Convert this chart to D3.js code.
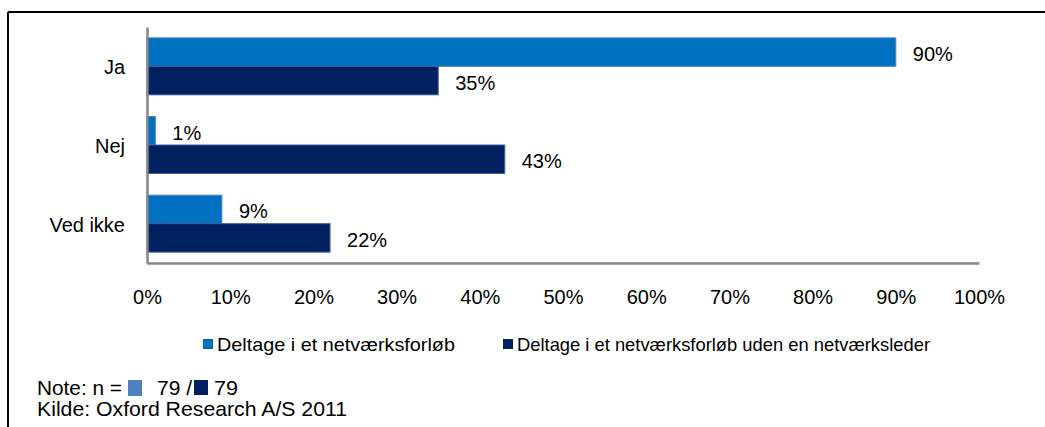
<!DOCTYPE html>
<html>
<head>
<meta charset="utf-8">
<script src="https://cdn.jsdelivr.net/npm/d3@7"></script>
<style>
  html, body { margin: 0; padding: 0; background: #fff; }
  svg { display: block; font-family: "Liberation Sans", Arial, sans-serif; }
  text { fill: #000; }
</style>
</head>
<body>
<svg id="chart" width="1045" height="427"></svg>
<script>
// Answer categories (top to bottom)
const categories = ["Ja", "Nej", "Ved ikke"];
// Two respondent groups
const seriesNames = [
  "Deltage i et netværksforløb",
  "Deltage i et netværksforløb uden en netværksleder"
];
// Share of respondents per category, in percent
const withLeader    = [90, 1, 9];
const withoutLeader = [35, 43, 22];
// Axis ticks
const tickValues = [0, 10, 20, 30, 40, 50, 60, 70, 80, 90, 100];
const sampleSizes = [79, 79];

const colors = ["#0070C0", "#002060"];
const strokes = ["#4F81BD", "#3F5F9A"];
const noteColors = ["#4F81BD", "#002060"];

const svg = d3.select("#chart");
const fontSize = 20;

// Outer frame (top and left edges)
svg.append("line").attr("x1", 8).attr("x2", 1045).attr("y1", 12).attr("y2", 12)
  .attr("stroke", "#000").attr("stroke-width", 2);
svg.append("line").attr("x1", 8).attr("x2", 8).attr("y1", 12).attr("y2", 427)
  .attr("stroke", "#000").attr("stroke-width", 2);

const plot = { left: 147, right: 979, top: 27, bottom: 263 };

const x = d3.scaleLinear().domain([0, 100]).range([plot.left, plot.right]);
const y = d3.scaleBand().domain(categories).range([plot.top, plot.bottom])
  .paddingInner(0.276).paddingOuter(0.138);
const ySub = d3.scaleBand().domain(seriesNames).range([0, y.bandwidth()]);

const rows = categories.map((c, i) => ({
  cat: c,
  values: [withLeader[i], withoutLeader[i]]
}));

// Bars
const groups = svg.append("g").selectAll("g").data(rows).join("g")
  .attr("transform", d => `translate(0,${y(d.cat)})`);

groups.selectAll("rect").data(d => d.values.map((v, k) => ({ v, k })))
  .join("rect")
  .attr("x", x(0))
  .attr("y", d => ySub(seriesNames[d.k]))
  .attr("width", d => x(d.v) - x(0))
  .attr("height", ySub.bandwidth())
  .attr("fill", d => colors[d.k])
  .attr("stroke", d => strokes[d.k])
  .attr("stroke-width", 1);

// Value labels
groups.selectAll("text.val").data(d => d.values.map((v, k) => ({ v, k })))
  .join("text")
  .attr("class", "val")
  .attr("x", d => x(d.v) + 17)
  .attr("y", d => ySub(seriesNames[d.k]) + ySub.bandwidth() / 2 + 9)
  .attr("font-size", fontSize)
  .text(d => d.v + "%");

// Bottom axis
const xAxis = svg.append("g")
  .attr("transform", `translate(0,${plot.bottom})`)
  .call(d3.axisBottom(x).tickValues(tickValues).tickSize(0).tickPadding(27)
    .tickFormat(d => d + "%"));
xAxis.select(".domain").attr("stroke", "#868686").attr("stroke-width", 2.5);
xAxis.selectAll("text").attr("font-size", fontSize).attr("font-family", null)
  .attr("fill", "#000");

// Left axis
const yAxis = svg.append("g")
  .attr("transform", `translate(${plot.left},0)`)
  .call(d3.axisLeft(y).tickSize(0).tickPadding(22));
yAxis.select(".domain").attr("stroke", "#868686").attr("stroke-width", 2.5);
yAxis.selectAll("text").attr("font-size", fontSize).attr("font-family", null)
  .attr("dy", "0.4em").attr("fill", "#000");

// Legend
const legendX = [203, 503];
const legendW = [238, 413];
const legend = svg.append("g").selectAll("g").data(seriesNames).join("g")
  .attr("transform", (d, i) => `translate(${legendX[i]},339)`);
legend.append("rect").attr("width", 10).attr("height", 10)
  .attr("fill", (d, i) => colors[i]);
legend.append("text").attr("x", 14).attr("y", 12)
  .attr("font-size", 19)
  .attr("textLength", (d, i) => legendW[i])
  .attr("lengthAdjust", "spacingAndGlyphs")
  .text(d => d);

// Note and source
const note = svg.append("g");
function noteText(xPos, yPos, w, str) {
  note.append("text").attr("x", xPos).attr("y", yPos).attr("font-size", fontSize)
    .attr("textLength", w).attr("lengthAdjust", "spacingAndGlyphs").text(str);
}
noteText(37, 395, 85, "Note: n =");
note.append("rect").attr("x", 128).attr("y", 380).attr("width", 14).attr("height", 16)
  .attr("fill", noteColors[0]);
noteText(157, 395, 35, sampleSizes[0] + " /");
note.append("rect").attr("x", 194).attr("y", 380).attr("width", 14).attr("height", 15)
  .attr("fill", noteColors[1]);
noteText(214, 395, 24, String(sampleSizes[1]));
noteText(37, 416, 310, "Kilde: Oxford Research A/S 2011");
</script>
</body>
</html>
